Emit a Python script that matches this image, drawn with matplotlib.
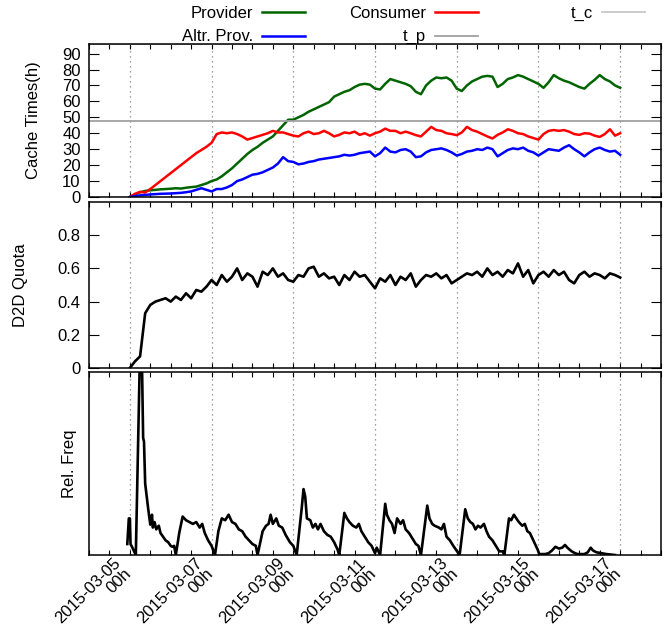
import numpy as np
import matplotlib
matplotlib.use('Agg')
import matplotlib.pyplot as plt
import matplotlib.dates as mdates

plt.rcParams['font.family'] = ['Liberation Sans', 'DejaVu Sans']
plt.rcParams['font.size'] = 12

# data: one sample every 3 hours, starting 2015-03-05 00h (8 samples per row = 1 day)
start = np.datetime64('2015-03-05T00:00')
step_h = 3

provider = [
    0, 1.5, 3, 3.8, 4.2, 4.5, 4.8, 5,
    5.2, 5.5, 5.3, 5.8, 6.2, 6.5, 7.5, 8.5,
    10, 11, 13, 15.5, 18, 21, 24, 27,
    29.5, 31.5, 34, 36, 38, 41.5, 45, 48.5,
    48.5, 50, 51.5, 53.5, 55, 56.5, 58, 59.5,
    63, 64.5, 66, 67, 69, 70.5, 71, 70.5,
    68, 67.5, 71, 74, 73, 72, 71, 69.5,
    66, 64.5, 70, 73, 75, 74.5, 75, 73,
    68, 66.5, 70, 72.5, 74, 75.5, 76, 75.5,
    69, 71, 74, 75, 76.5, 75.5, 74, 72.5,
    71, 68.5, 72, 76.5, 74.5, 73, 72, 70.5,
    69, 68, 71, 73.5, 76.5, 74, 72.5, 70,
    68.5,
]
consumer = [
    0, 2, 3.2, 2.8, 5, 7.5, 10, 12.5,
    15, 17.5, 20, 22.5, 25, 27.5, 29.5, 31.5,
    34, 39.5, 40.5, 40, 40.5, 39.5, 38, 36,
    37, 38, 39, 40, 41.5, 40.5, 40.5, 39.5,
    38.5, 38, 40, 41, 39.5, 40, 41.5, 40,
    38, 39, 40.5, 40, 41, 39, 40, 38.5,
    40, 41, 42.9, 41.5, 41.5, 40, 41, 40,
    38.8, 38, 41, 44, 42, 41.5, 40, 39.5,
    38.8, 40.5, 44, 42, 41, 39.5, 38, 36.7,
    39, 40.5, 42.5, 41.5, 40, 39.5, 38, 37,
    36, 39.5, 41.5, 42, 41.5, 42, 41, 39.5,
    39, 40, 39.8, 38.5, 37.7, 39.5, 42.5, 38.5,
    40,
]
altr_prov = [
    0, 0.5, 1, 1.3, 1.6, 1.8, 2, 2.1,
    2.2, 2.4, 2.6, 3, 3.5, 4.5, 5.5, 4.5,
    3.5, 5, 5, 6, 7.5, 10, 11, 12.5,
    14, 14.5, 15.5, 17, 18.5, 21, 25, 22.5,
    22, 20.5, 21, 22, 22.5, 23.5, 24, 24.5,
    25, 25.5, 26.5, 26, 26.5, 27.5, 28, 28.5,
    25.5, 27.5, 31, 28.5, 28, 29.5, 30, 28.5,
    25, 25.5, 28, 29.5, 30, 30.5, 29.5, 28,
    26, 27, 28.5, 29, 30, 29.5, 31, 30,
    25.5, 27.5, 29.5, 30.5, 30, 31, 29, 28,
    26, 28, 30, 29.5, 29, 31, 32.5, 30,
    28, 25.5, 28, 30, 31, 29.5, 28.5, 29,
    26.5,
]
d2d_quota = [
    0.0, 0.04, 0.07, 0.33, 0.38, 0.40, 0.41, 0.42,
    0.40, 0.43, 0.41, 0.45, 0.42, 0.47, 0.46, 0.49,
    0.53, 0.50, 0.56, 0.52, 0.55, 0.60, 0.53, 0.57,
    0.55, 0.49, 0.58, 0.56, 0.60, 0.55, 0.57, 0.53,
    0.52, 0.56, 0.55, 0.60, 0.61, 0.55, 0.57, 0.54,
    0.55, 0.50, 0.56, 0.53, 0.58, 0.55, 0.56, 0.52,
    0.48, 0.54, 0.52, 0.56, 0.50, 0.55, 0.53, 0.57,
    0.49, 0.53, 0.56, 0.55, 0.57, 0.54, 0.56, 0.51,
    0.53, 0.55, 0.57, 0.56, 0.58, 0.55, 0.60, 0.56,
    0.58, 0.55, 0.59, 0.57, 0.63, 0.55, 0.59, 0.51,
    0.56, 0.58, 0.55, 0.59, 0.56, 0.58, 0.53, 0.51,
    0.56, 0.58, 0.55, 0.57, 0.56, 0.54, 0.57, 0.56,
    0.545,
]

# relative request frequency, irregular samples (hours after start, normalised value)
freq_hours = [
    -1.5, -0.6, 0, 0.4, 1.5, 3.5, 4.5, 5.7, 7.2, 7.8, 8.3, 9, 10, 10.8, 11.5, 12,
    13, 13.5, 14.5, 15.5, 17, 18, 19.5, 21, 22.5, 24, 25, 26, 27,
    29, 31, 33, 35, 37, 39, 41, 42.5, 44, 46, 48, 50,
    52, 54, 56, 58, 60, 62, 64, 66, 68, 70, 72, 74, 75,
    78, 80, 81.5, 82.7, 84, 86, 87.5, 89.5, 91.5, 94, 96, 98,
    101, 102, 103, 104, 106, 107.5, 109, 110.5, 112, 114, 116, 118, 120, 122, 123,
    126, 127.5, 129, 131, 133, 134.5, 136, 138, 140, 142, 144, 145, 147,
    150, 151, 152.5, 154, 155.5, 157, 159, 160.5, 162, 164, 166, 168, 169.5, 171,
    174.7, 176, 177.6, 179, 181.5, 183, 184.5, 186, 188, 190, 193.7,
    197, 198.5, 200, 201.5, 203, 204.5, 206, 208, 209.5, 211, 213, 215, 217, 219, 220,
    222.7, 224, 225.6, 227, 228.5, 230.5, 232, 233.5, 235, 236.5, 238, 239.5, 240.5,
    244, 246, 248, 250, 252, 254, 255.6, 257, 259.5, 261.5, 263,
    267, 269, 270.7, 272, 274, 277, 280, 285,
]
freq_values = [
    0.06, 0.2, 0.2, 0.06, 0.04, 0.0, 0.45, 1.0, 1.0, 0.64, 0.62, 0.39, 0.31, 0.25, 0.20, 0.166,
    0.22, 0.15, 0.18, 0.14, 0.16, 0.12, 0.10, 0.08, 0.07, 0.05, 0.045, 0.05, 0.0,
    0.12, 0.21, 0.19, 0.18, 0.17, 0.18, 0.15, 0.17, 0.12, 0.08, 0.05, 0.0,
    0.13, 0.20, 0.19, 0.22, 0.18, 0.17, 0.14, 0.13, 0.10, 0.08, 0.06, 0.05, 0.0,
    0.13, 0.16, 0.17, 0.22, 0.17, 0.20, 0.16, 0.15, 0.11, 0.07, 0.05, 0.0,
    0.26, 0.36, 0.32, 0.20, 0.19, 0.15, 0.17, 0.14, 0.17, 0.13, 0.11, 0.10, 0.07, 0.03, 0.0,
    0.23, 0.20, 0.18, 0.16, 0.15, 0.17, 0.13, 0.10, 0.07, 0.05, 0.01, 0.04, 0.0,
    0.28, 0.22, 0.19, 0.17, 0.12, 0.20, 0.17, 0.19, 0.14, 0.12, 0.09, 0.06, 0.05, 0.0,
    0.27, 0.20, 0.17, 0.16, 0.15, 0.14, 0.17, 0.10, 0.08, 0.05, 0.0,
    0.25, 0.20, 0.18, 0.17, 0.14, 0.16, 0.15, 0.17, 0.13, 0.10, 0.08, 0.05, 0.02, 0.02, 0.0,
    0.20, 0.19, 0.22, 0.20, 0.18, 0.16, 0.17, 0.13, 0.12, 0.09, 0.06, 0.03, 0.005,
    0.005, 0.01, 0.025, 0.045, 0.035, 0.04, 0.055, 0.04, 0.02, 0.01, 0.005,
    0.005, 0.015, 0.04, 0.025, 0.015, 0.01, 0.005, 0.0,
]

t_c = 96
t_p = 48


def to_time(hours):
    return start + (np.asarray(hours, dtype=float) * 60).astype('timedelta64[m]')


t = to_time(np.arange(len(provider)) * step_h)
t_freq = to_time(freq_hours)

x_min = np.datetime64('2015-03-04T00:00')
x_max = np.datetime64('2015-03-18T00:00')
major_days = np.arange(np.datetime64('2015-03-05'), np.datetime64('2015-03-18'),
                       np.timedelta64(2, 'D')).astype('datetime64[m]')

fig = plt.figure(figsize=(6.72, 6.31), dpi=100)
W, H = 672, 631
left, right = 89 / W, 661 / W
ax1 = fig.add_axes([left, 1 - 197 / H, right - left, 153 / H])
ax2 = fig.add_axes([left, 1 - 368 / H, right - left, 166 / H])
ax3 = fig.add_axes([left, 1 - 555 / H, right - left, 183 / H])

# cache times
h_prov, = ax1.plot(t, provider, color='#006400', lw=1.8)
h_cons, = ax1.plot(t, consumer, color='#ff0000', lw=1.8)
h_alt, = ax1.plot(t, altr_prov, color='#0000ff', lw=1.8)
h_tc = ax1.axhline(t_c, color='#c8c8c8', lw=1.3)
h_tp = ax1.axhline(t_p, color='#a0a0a0', lw=1.3)
ax1.set_ylim(0, 96)
ax1.set_yticks(np.arange(0, 91, 10))
ax1.set_ylabel('Cache Times(h)')
ax1.yaxis.set_label_coords(-0.084, 0.5)

# D2D quota
ax2.plot(t, d2d_quota, color='black', lw=1.9)
ax2.set_ylim(0, 1)
ax2.set_yticks([0, 0.2, 0.4, 0.6, 0.8])
ax2.set_yticklabels(['0', '0.2', '0.4', '0.6', '0.8'])
ax2.set_ylabel('D2D Quota')
ax2.yaxis.set_label_coords(-0.107, 0.5)

# relative frequency
ax3.plot(t_freq, freq_values, color='black', lw=1.9)
ax3.set_ylim(0, 1)
ax3.set_yticks([])
ax3.set_ylabel('Rel. Freq')
ax3.yaxis.set_label_coords(-0.021, 0.5)

for ax in (ax1, ax2, ax3):
    ax.set_xlim(x_min, x_max)
    ax.set_xticks(major_days)
    ax.xaxis.set_minor_locator(mdates.HourLocator(byhour=[0, 12]))
    ax.grid(axis='x', which='major', color='#808080', linestyle=(0, (1, 3)), lw=0.9)
    ax.tick_params(axis='x', which='both', direction='in', top=True, length=3.6, width=0.8,
                   labelbottom=False)
    ax.tick_params(axis='y', direction='in', right=True, length=7, width=0.8, pad=6)
    for s in ax.spines.values():
        s.set_linewidth(1.1)

# date labels under the bottom panel, rotated, centred on the tick like gnuplot
fmt = mdates.DateFormatter('%Y-%m-%d\n%Hh')
for d in major_days:
    ax3.annotate(fmt(mdates.date2num(d)), xy=(d, 0), xycoords=('data', 'axes fraction'),
                 xytext=(-4.5, -8), textcoords='offset points', rotation=45,
                 rotation_mode='anchor', ha='right', va='center', multialignment='right',
                 linespacing=0.95, fontsize=12, annotation_clip=False)

# legend: three columns, label left of the line
leg_kw = dict(loc='upper right', frameon=False, markerfirst=False, handlelength=2.6,
              handletextpad=0.5, borderpad=0, borderaxespad=0, labelspacing=0.5,
              fontsize=12)
fig.legend([h_prov, h_alt], ['Provider', 'Altr. Prov.'],
           bbox_to_anchor=(305 / W, 1 - 6 / H), **leg_kw)
fig.legend([h_cons, h_tp], ['Consumer', 't_p'],
           bbox_to_anchor=(478 / W, 1 - 6 / H), **leg_kw)
fig.legend([h_tc], ['t_c'],
           bbox_to_anchor=(645 / W, 1 - 6 / H), **leg_kw)

fig.savefig('out.png', dpi=100)
